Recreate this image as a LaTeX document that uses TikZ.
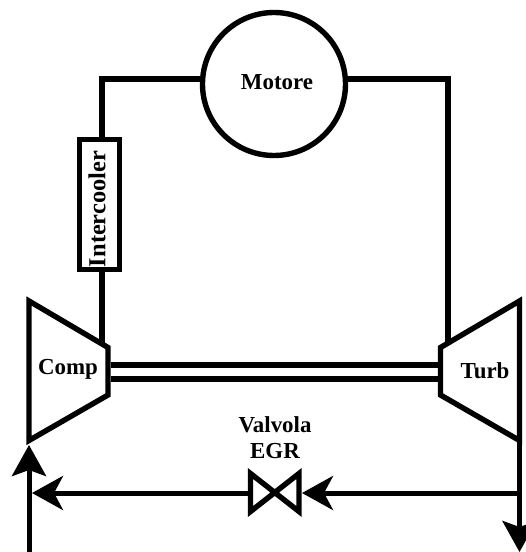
\documentclass[tikz,border=0pt]{standalone}
\usepackage{fontspec}
\setmainfont{Liberation Serif}
\usetikzlibrary{arrows.meta}
\tikzset{
  pipe/.style={line width=5bp,line join=miter},
  heavy/.style={line width=5.4bp,line join=miter},
  flowv/.style={pipe,-{Stealth[length=31bp,width=34bp,inset=6bp]}},
  flowh/.style={pipe,-{Stealth[length=31bp,width=34bp,inset=9bp]}},
  lbl/.style={font=\fontsize{23}{26}\selectfont\bfseries,inner sep=0pt,align=center},
  motorbox/.style={circle,draw,heavy,minimum size=143bp,inner sep=0pt},
  coolerbox/.style={rectangle,draw,heavy,fill=white,minimum width=40bp,minimum height=130bp,inner sep=0pt}
}
\begin{document}
\begin{tikzpicture}[x=1bp,y=-1bp]
\useasboundingbox (0,0) rectangle (526,552);
% main units
\node[motorbox] (motor) at (274,84) {};
\node[lbl] at (277,82) {Motore};
\node[coolerbox] (cooler) at (99.5,204.5) {};
\node[lbl,rotate=90,font=\fontsize{24.5}{26}\selectfont\bfseries] at (97,209) {Intercooler};
% compressor and turbine outlines
\coordinate (c1) at (29,301);
\coordinate (c2) at (108,347.5);
\coordinate (c3) at (108,395);
\coordinate (c4) at (29,440.5);
\coordinate (t1) at (519.5,301);
\coordinate (t2) at (440.5,347.5);
\coordinate (t3) at (440.5,395);
\coordinate (t4) at (519.5,440.5);
\draw[heavy] (c1) -- (c2) -- (c3) -- (c4) -- cycle;
\draw[heavy] (t1) -- (t2) -- (t3) -- (t4) -- cycle;
\node[lbl] at (68,369) {Comp};
\node[lbl] at (485,371) {Turb};
% shaft
\draw[heavy] (110.5,365) -- (437.5,365);
\draw[heavy] (110.5,379) -- (437.5,379);
% engine loop
\coordinate (lc) at (102,79);
\coordinate (rc) at (448,79);
\coordinate (cin) at (102,343);
\coordinate (tin) at (448,343);
\draw[heavy] (motor.west |- lc) -- (lc) -- (lc |- cooler.north);
\draw[heavy] (lc |- cooler.south) -- (cin);
\draw[heavy] (motor.east |- rc) -- (rc) -- (tin);
% valve
\coordinate (v1) at (250.5,473.5);
\coordinate (v2) at (250.5,511.5);
\coordinate (v3) at (299,473.5);
\coordinate (v4) at (299,511.5);
\draw[heavy] (v1) -- (v4) -- (v3) -- (v2) -- cycle;
\node[lbl] at (275,438) {Valvola\\EGR};
% flows
\coordinate (inlet) at (29,552);
\coordinate (inletTip) at (29,445);
\coordinate (mixL) at (32,493);
\coordinate (mixR) at (519.5,493);
\coordinate (outlet) at (519.5,552);
\draw[flowv] (inlet) -- (inletTip);
\draw[flowh] (mixR) -- (302,493);
\draw[flowh] (250.5,493) -- (mixL);
\draw[flowv] (t4) -- (outlet);
\end{tikzpicture}
\end{document}
